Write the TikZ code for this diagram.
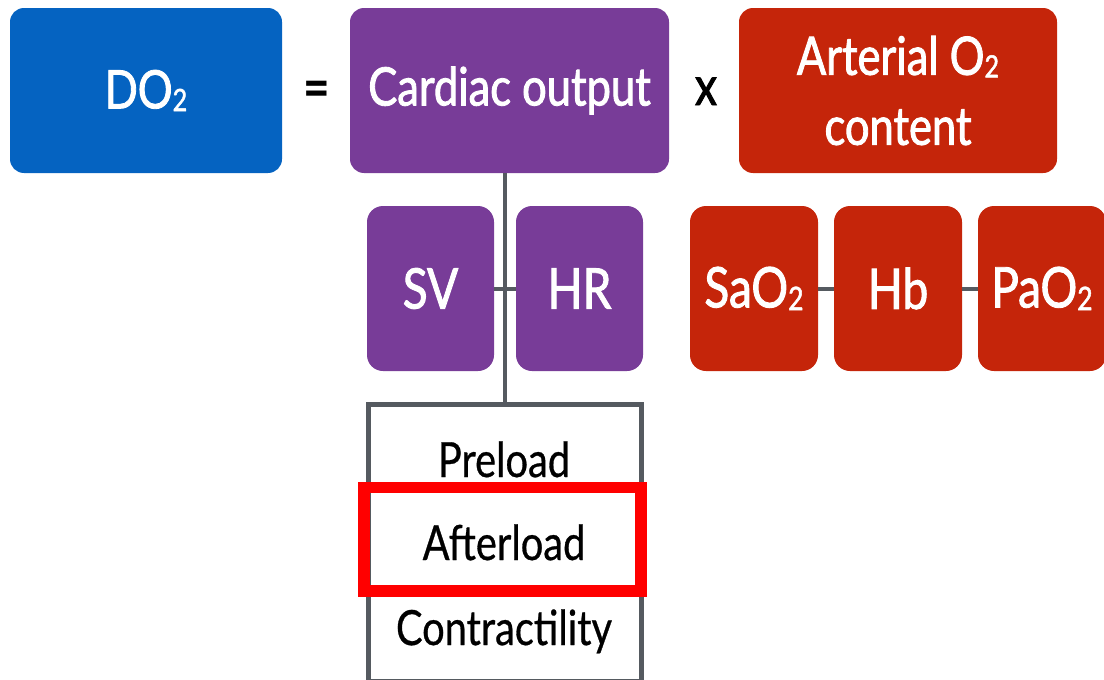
\documentclass[tikz,border=0pt]{standalone}
\usepackage{fontspec}
\usepackage{graphicx}
\setmainfont{Lato}[FakeStretch=0.82]
\newfontfamily\boxfont{Lato}[FakeStretch=0.82,FakeBold=1.6]
\newfontfamily\itemfont{Lato}[FakeStretch=0.82,FakeBold=0.6]
\newcommand\subtwo{\raisebox{-0.05em}{\scalebox{0.58}{2}}}
\definecolor{doblue}{RGB}{5,99,193}
\definecolor{copurple}{RGB}{120,60,152}
\definecolor{aored}{RGB}{197,37,10}
\definecolor{linegray}{RGB}{85,90,96}
\definecolor{hlred}{RGB}{255,0,0}
\begin{document}
\begin{tikzpicture}[x=1pt,y=-1pt,
  box/.style={rounded corners=14pt,inner sep=0pt,text=white,align=center,
    font=\boxfont\fontsize{53}{70}\selectfont},
  bigbox/.style={box,minimum height=165pt},
  smallbox/.style={box,minimum width=127pt,minimum height=165pt,rounded corners=16pt,
    font=\boxfont\fontsize{56}{60}\selectfont},
  op/.style={inner sep=0pt},
  conn/.style={draw=linegray,line width=4pt},
  item/.style={inner sep=0pt,anchor=base,font=\itemfont\fontsize{48.5}{50}\selectfont}]
\useasboundingbox (0,0) rectangle (1104,680);
\clip (0,0) rectangle (1104,680);
% top row
\node[bigbox,fill=doblue,minimum width=272pt] (do) at (146,90.5) {DO\subtwo};
\node[op,font=\bfseries\fontsize{56}{60}\selectfont] (eq) at (317,94) {=};
\node[bigbox,fill=copurple,minimum width=319pt] (co) at (509.5,90.5) {Cardiac output};
\node[op,font=\boxfont\fontsize{54}{60}\selectfont,anchor=base] (times) at (706,105) {x};
\node[bigbox,fill=aored,minimum width=318pt] (ao) at (898,90.5) {Arterial O\subtwo\\content};
% second row
\node[smallbox,fill=copurple] (sv) at (430.5,288.5) {SV};
\node[smallbox,fill=copurple] (hr) at (579.5,288.5) {HR};
\node[smallbox,fill=aored,minimum width=128pt] (sao) at (754,288.5) {SaO\subtwo};
\node[smallbox,fill=aored,minimum width=128pt] (hb) at (898,288.5) {Hb};
\node[smallbox,fill=aored,minimum width=128pt] (pao) at (1042,288.5) {PaO\subtwo};
% lower box
\node[draw=linegray,line width=5pt,inner sep=0pt,minimum width=273pt,minimum height=277pt] (load) at (504.5,543) {};
\node[item] (pre) at (504,477) {Preload};
\node[item] (aft) at (504,560) {Afterload};
\node[item] (con) at (504,645) {Contractility};
\node[draw=hlred,line width=11.5pt,inner sep=0pt,minimum width=277pt,minimum height=103.5pt] (hl) at (502.5,539.25) {};
% connectors
\draw[conn] (load.north) -- (load.north |- co.south);
\draw[conn] (sv.east) -- (hr.west);
\draw[conn] (sao.east) -- (hb.west);
\draw[conn] (hb.east) -- (pao.west);
\end{tikzpicture}
\end{document}
